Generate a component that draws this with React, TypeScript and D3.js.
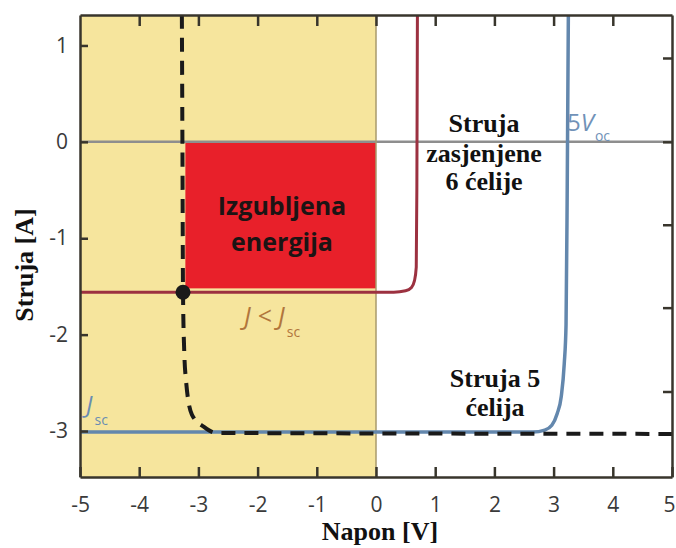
import React, { useRef, useEffect } from "react";
import { select, scaleLinear, axisBottom, axisLeft, axisTop, axisRight, line, curveMonotoneX } from "d3";

// axis ticks
const xTicks = [-5, -4, -3, -2, -1, 0, 1, 2, 3, 4, 5];
const yTicks = [1, 0, -1, -2, -3];
const rightTicks = [0.87, 0, -0.86, -1.72, -2.59];

// I-V curves (napon V, struja A)
const redV = [-5, 0.3, 0.5, 0.6, 0.65, 0.68, 0.69, 0.7];
const redJ = [-1.56, -1.56, -1.545, -1.51, -1.44, -1.3, -0.5, 1.4];

const blueV = [-5, 2.65, 2.85, 2.97, 3.06, 3.13, 3.18, 3.21, 3.23, 3.25];
const blueJ = [-3.01, -3.01, -2.99, -2.94, -2.82, -2.64, -2.3, -1.9, -0.5, 1.4];

const blackV = [-3.28, -3.27, -3.26, -3.24, -3.21, -3.11, -2.9, -2.7, 5.1];
const blackJ = [1.4, 0, -1.56, -2.16, -2.47, -2.83, -2.96, -3.02, -3.03];

// shaded region and lost energy box
const shadeV = [-5, 0];
const lossV = [-3.22, 0];
const lossJ = [0, -1.52];
const workPoint = [-3.26, -1.56];

const W = 676;
const H = 548;
const left = 80;
const right = 672;
const top = 15;
const bottom = 477;

const x = scaleLinear().domain([-5, 5]).range([left, right]);
const y = scaleLinear().domain([-3.477, 1.316]).range([bottom, top]);

const makeLine = (vs: number[], js: number[]) =>
  line<number>()
    .x((_, i) => x(vs[i]))
    .y((j) => y(j))
    .curve(curveMonotoneX)(js) || "";

const serif = "'Liberation Serif', 'Times New Roman', serif";
const sans = "'Open Sans', 'Noto Sans', sans-serif";

const App = () => {
  const svgRef = useRef<SVGSVGElement>(null);

  useEffect(() => {
    const svg = select(svgRef.current);

    const style = (g: any) => {
      g.select(".domain").attr("stroke", "#38352c").attr("stroke-width", 2.5);
      g.selectAll(".tick line").attr("stroke", "#38352c").attr("stroke-width", 2.5);
      g.selectAll(".tick text")
        .attr("fill", "#3a3a3a")
        .style("font-family", sans)
        .style("font-size", "21px");
    };

    svg
      .select<SVGGElement>(".x-axis")
      .attr("transform", `translate(0,${bottom})`)
      .call(axisBottom(x).tickValues(xTicks).tickSize(-10).tickSizeOuter(0).tickPadding(20).tickFormat((d: any) => `${d}`))
      .call(style);
    // last label sits on the page edge
    svg.select(".x-axis").selectAll(".tick text").filter((d: any) => d === 5).attr("dx", "-3");

    svg
      .select<SVGGElement>(".y-axis")
      .attr("transform", `translate(${left},0)`)
      .call(axisLeft(y).tickValues(yTicks).tickSize(-8).tickSizeOuter(0).tickPadding(12).tickFormat((d: any) => `${d}`))
      .call(style);

    svg
      .select<SVGGElement>(".x-top")
      .attr("transform", `translate(0,${top})`)
      .call(axisTop(x).tickValues(xTicks.slice(1, -1)).tickSize(-11).tickSizeOuter(0).tickFormat(() => ""))
      .call(style);

    svg
      .select<SVGGElement>(".y-right")
      .attr("transform", `translate(${right},0)`)
      .call(axisRight(y).tickValues(rightTicks).tickSize(-9).tickSizeOuter(0).tickFormat(() => ""))
      .call(style);
  }, []);

  return (
    <>
      <style>{`body{margin:0}`}</style>
      <svg ref={svgRef} width={W} height={H} style={{ display: "block", background: "#fff" }}>
        <defs>
          <clipPath id="plot">
            <rect x={left} y={top} width={right - left} height={bottom - top} />
          </clipPath>
        </defs>
        {/* shaded reverse-bias zone */}
        <rect x={x(shadeV[0])} y={top} width={x(shadeV[1]) - x(shadeV[0])} height={bottom - top} fill="#f6e59d" />
        {/* lost energy */}
        <rect x={x(lossV[0])} y={y(lossJ[0])} width={x(lossV[1]) - x(lossV[0])} height={y(lossJ[1]) - y(lossJ[0])} fill="#e8202a" />
        {/* zero lines */}
        <line x1={left} x2={right} y1={y(0)} y2={y(0)} stroke="#8e8e8e" strokeWidth={2.5} />
        <line x1={x(0)} x2={x(0)} y1={top} y2={bottom} stroke="#a89a6c" strokeWidth={1.5} />

        <g clipPath="url(#plot)">
          <path d={makeLine(blueV, blueJ)} fill="none" stroke="#6387ad" strokeWidth={3.5} />
          <path d={makeLine(redV, redJ)} fill="none" stroke="#9c3140" strokeWidth={3} />
          <path d={makeLine(blackV, blackJ)} fill="none" stroke="#1a1a1a" strokeWidth={4} strokeDasharray="14 9" strokeDashoffset={-8} />
        </g>
        <circle cx={x(workPoint[0])} cy={y(workPoint[1])} r={7.5} fill="#1a1a1a" />

        <g className="x-axis" />
        <g className="y-axis" />
        <g className="x-top" />
        <g className="y-right" />

        <text x={282} y={215} textAnchor="middle" fontFamily={sans} fontWeight={700} fontSize={25} fill="#1c1414">Izgubljena</text>
        <text x={282} y={251} textAnchor="middle" fontFamily={sans} fontWeight={700} fontSize={25} fill="#1c1414">energija</text>

        <text x={244} y={325} fontFamily={sans} fontSize={25} fill="#b1763c">
          <tspan fontStyle="italic">J</tspan>
          <tspan dx={7}>&lt;</tspan>
          <tspan dx={6} fontStyle="italic">J</tspan>
          <tspan dx={2} dy={12} fontSize={14}>sc</tspan>
        </text>

        <text x={86} y={413} fontFamily={sans} fontSize={24} fill="#6a8db2">
          <tspan fontStyle="italic">J</tspan>
          <tspan dx={2} dy={12} fontSize={14}>sc</tspan>
        </text>

        <text x={567} y={131} fontFamily={sans} fontSize={24} fill="#7192b8">
          <tspan>5</tspan>
          <tspan fontStyle="italic">V</tspan>
          <tspan dx={1} dy={10} fontSize={14}>oc</tspan>
        </text>

        <g fontFamily={serif} fontWeight={700} fontSize={26} fill="#111" textAnchor="middle">
          <text x={484} y={132}>Struja</text>
          <text x={484} y={162}>zasjenjene</text>
          <text x={484} y={190}>6 ćelije</text>
          <text x={495} y={387}>Struja 5</text>
          <text x={495} y={416}>ćelija</text>
          <text x={380} y={540}>Napon [V]</text>
          <text transform={`translate(33,265) rotate(-90)`}>Struja [A]</text>
        </g>
      </svg>
    </>
  );
};

export default App;
